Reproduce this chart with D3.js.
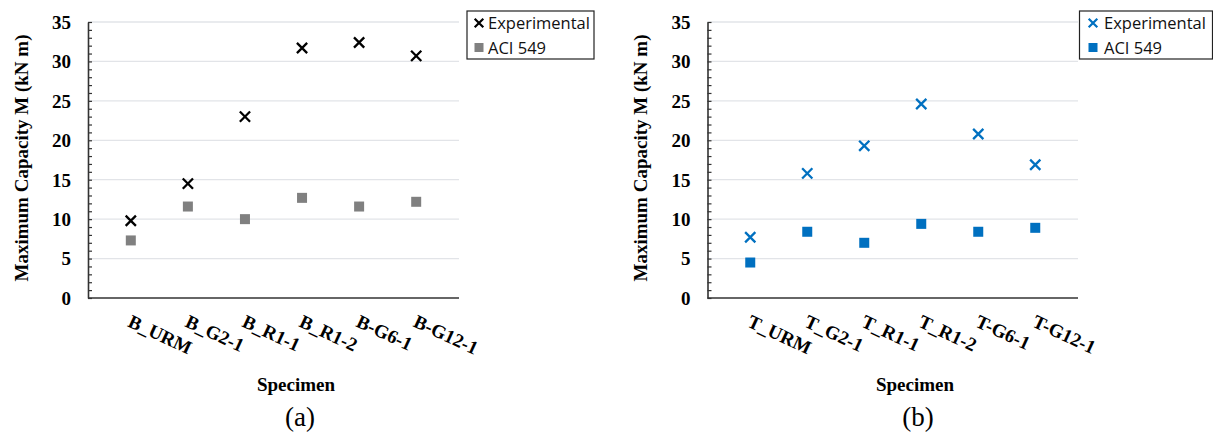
<!DOCTYPE html>
<html>
<head>
<meta charset="utf-8">
<script src="https://cdn.jsdelivr.net/npm/d3@7"></script>
<style>
  html, body { margin: 0; padding: 0; background: #fff; }
  svg { display: block; }
</style>
</head>
<body>
<svg id="chart" width="1213" height="434"></svg>
<script>
// values
const categoriesA = ["B_URM", "B_G2-1", "B_R1-1", "B_R1-2", "B-G6-1", "B-G12-1"];
const experimentalA = [9.8, 14.5, 23.0, 31.7, 32.4, 30.7];
const aciA = [7.3, 11.6, 10.0, 12.7, 11.6, 12.2];

const categoriesB = ["T_URM", "T_G2-1", "T_R1-1", "T_R1-2", "T-G6-1", "T-G12-1"];
const experimentalB = [7.7, 15.8, 19.3, 24.6, 20.8, 16.9];
const aciB = [4.5, 8.4, 7.0, 9.4, 8.4, 8.9];

const yMajorTicks = [0, 5, 10, 15, 20, 25, 30, 35];
const yMinorTicks = d3.range(0, 36, 1);
const seriesNames = ["Experimental", "ACI 549"];

const svg = d3.select('#chart');
const serif = '"Liberation Serif", "Times New Roman", serif';

drawPanel({
    left: 88, right: 459, top: 22, bottom: 298,
    categories: categoriesA, exp: experimentalA, aci: aciA,
    expColor: '#000000', aciColor: '#808080',
    legend: { x: 467, y: 11, w: 127, h: 48, markX: 479, textX: 488 },
    titleX: 21, xTitleX: 296, caption: '(a)', captionX: 300
});

drawPanel({
    left: 707.5, right: 1078, top: 22, bottom: 298,
    categories: categoriesB, exp: experimentalB, aci: aciB,
    expColor: '#0070C0', aciColor: '#0070C0',
    legend: { x: 1079.5, y: 11, w: 133, h: 48, markX: 1093, textX: 1104 },
    titleX: 640, xTitleX: 915, caption: '(b)', captionX: 918
});

function drawPanel(p) {
    const g = svg.append('g');

    const x = d3.scalePoint()
        .domain(p.categories)
        .range([p.left, p.right])
        .padding(0.75);

    const y = d3.scaleLinear()
        .domain([0, 35])
        .range([p.bottom, p.top]);

    // gridlines
    g.append('g')
        .selectAll('line')
        .data(yMajorTicks.filter(d => d > 0))
        .enter()
        .append('line')
        .attr('x1', p.left)
        .attr('x2', p.right)
        .attr('y1', d => y(d))
        .attr('y2', d => y(d))
        .attr('stroke', '#e2e4e8')
        .attr('stroke-width', 1.3);

    // y axis: minor ticks every unit, drawn inside
    const yAxis = g.append('g')
        .attr('transform', `translate(${p.left},0)`)
        .call(d3.axisRight(y).tickValues(yMinorTicks).tickSize(4).tickSizeOuter(0).tickFormat(''));
    yAxis.select('.domain').attr('stroke', '#333').attr('stroke-width', 1.6);
    yAxis.selectAll('.tick line').attr('stroke', '#333').attr('stroke-width', 1.2);

    // y tick labels
    g.append('g')
        .selectAll('text')
        .data(yMajorTicks)
        .enter()
        .append('text')
        .attr('x', p.left - 17)
        .attr('y', d => y(d))
        .attr('dy', '0.36em')
        .attr('text-anchor', 'end')
        .style('font-family', serif)
        .style('font-weight', 'bold')
        .style('font-size', '19px')
        .text(d => d);

    // x axis line
    g.append('line')
        .attr('x1', p.left)
        .attr('x2', p.right)
        .attr('y1', p.bottom)
        .attr('y2', p.bottom)
        .attr('stroke', '#333')
        .attr('stroke-width', 1.6);

    // rotated category labels
    g.append('g')
        .selectAll('text')
        .data(p.categories)
        .enter()
        .append('text')
        .attr('transform', d => `translate(${x(d) - 4},326) rotate(25)`)
        .style('font-family', serif)
        .style('font-weight', 'bold')
        .style('font-size', '19px')
        .text(d => d);

    // ACI 549 squares
    const sq = 10;
    g.append('g')
        .selectAll('rect')
        .data(p.aci)
        .enter()
        .append('rect')
        .attr('x', (d, i) => x(p.categories[i]) - sq / 2)
        .attr('y', d => y(d) - sq / 2)
        .attr('width', sq)
        .attr('height', sq)
        .attr('fill', p.aciColor);

    // experimental crosses
    const cross = d3.symbol().type(d3.symbolX).size(70);
    g.append('g')
        .selectAll('path')
        .data(p.exp)
        .enter()
        .append('path')
        .attr('d', cross)
        .attr('transform', (d, i) => `translate(${x(p.categories[i])},${y(d)})`)
        .attr('fill', 'none')
        .attr('stroke', p.expColor)
        .attr('stroke-width', 2.3);

    // axis titles
    g.append('text')
        .attr('transform', `translate(${p.titleX},${(p.top + p.bottom) / 2 - 2}) rotate(-90)`)
        .attr('text-anchor', 'middle')
        .attr('dy', '0.35em')
        .style('font-family', serif)
        .style('font-weight', 'bold')
        .style('font-size', '19px')
        .text('Maximum Capacity M (kN m)');

    g.append('text')
        .attr('x', p.xTitleX)
        .attr('y', 391)
        .attr('text-anchor', 'middle')
        .style('font-family', serif)
        .style('font-weight', 'bold')
        .style('font-size', '19px')
        .text('Specimen');

    g.append('text')
        .attr('x', p.captionX)
        .attr('y', 426)
        .attr('text-anchor', 'middle')
        .style('font-family', serif)
        .style('font-size', '27px')
        .text(p.caption);

    // legend
    const L = p.legend;
    const lg = g.append('g');
    lg.append('rect')
        .attr('x', L.x)
        .attr('y', L.y)
        .attr('width', L.w)
        .attr('height', L.h)
        .attr('fill', '#fff')
        .attr('stroke', '#222')
        .attr('stroke-width', 1.2);

    lg.append('path')
        .attr('d', d3.symbol().type(d3.symbolX).size(50))
        .attr('transform', `translate(${L.markX},${L.y + 12})`)
        .attr('fill', 'none')
        .attr('stroke', p.expColor)
        .attr('stroke-width', 2.2);

    lg.append('rect')
        .attr('x', L.markX - 4.5)
        .attr('y', L.y + 32)
        .attr('width', 9)
        .attr('height', 9)
        .attr('fill', p.aciColor);

    lg.selectAll('text.leg')
        .data(seriesNames)
        .enter()
        .append('text')
        .attr('class', 'leg')
        .attr('x', L.textX)
        .attr('y', (d, i) => L.y + 18 + i * 24.5)
        .style('font-family', '"Open Sans", sans-serif')
        .style('font-size', '16.5px')
        .attr('fill', '#111')
        .text(d => d);
}
</script>
</body>
</html>
